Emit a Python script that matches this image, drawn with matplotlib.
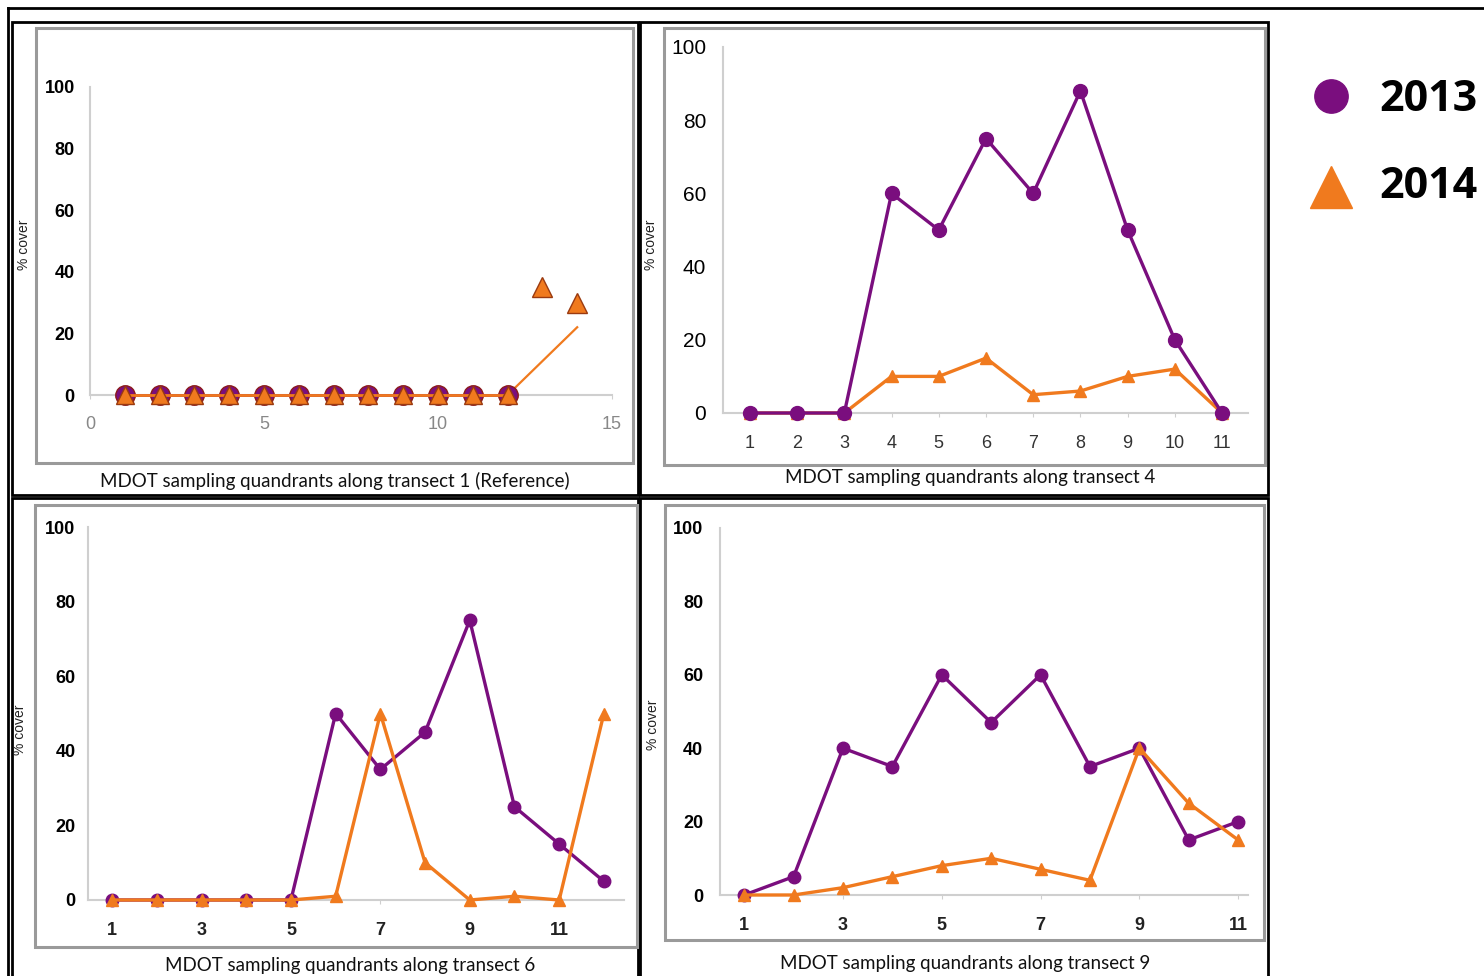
import matplotlib.pyplot as plt
from matplotlib.patches import Rectangle
from matplotlib.lines import Line2D

W, H = 1484, 976

# data
t1_x = [1, 2, 3, 4, 5, 6, 7, 8, 9, 10, 11, 12]
t1_2013 = [0, 0, 0, 0, 0, 0, 0, 0, 0, 0, 0, 0]
t1_2014 = [0, 0, 0, 0, 0, 0, 0, 0, 0, 0, 0, 0]
t1_2014_extra_x = [13, 14]
t1_2014_extra = [35, 30]
t1_2014_seg_x = [12, 14]
t1_2014_seg = [0, 22]

t4_x = [1, 2, 3, 4, 5, 6, 7, 8, 9, 10, 11]
t4_2013 = [0, 0, 0, 60, 50, 75, 60, 88, 50, 20, 0]
t4_2014 = [0, 0, 0, 10, 10, 15, 5, 6, 10, 12, 0]

t6_x = [1, 2, 3, 4, 5, 6, 7, 8, 9, 10, 11, 12]
t6_2013 = [0, 0, 0, 0, 0, 50, 35, 45, 75, 25, 15, 5]
t6_2014 = [0, 0, 0, 0, 0, 1, 50, 10, 0, 1, 0, 50]

t9_x = [1, 2, 3, 4, 5, 6, 7, 8, 9, 10, 11]
t9_2013 = [0, 5, 40, 35, 60, 47, 60, 35, 40, 15, 20]
t9_2014 = [0, 0, 2, 5, 8, 10, 7, 4, 40, 25, 15]

y_ticks = [0, 20, 40, 60, 80, 100]
PURPLE = '#7a0e7e'
ORANGE = '#f07a1e'
AXGRAY = '#cfcfcf'


def frac(x0, y0, x1, y1):
    return [x0 / W, 1 - y1 / H, (x1 - x0) / W, (y1 - y0) / H]


def box(x0, y0, x1, y1, color, lw):
    fig.add_artist(Rectangle((x0 / W, 1 - y1 / H), (x1 - x0) / W, (y1 - y0) / H,
                             transform=fig.transFigure, fill=False,
                             edgecolor=color, linewidth=lw))


def style_axes(ax, xlim, xticks, ylab_font, xlab_font, xpad, ypad, xcolor='#222222'):
    ax.set_xlim(*xlim)
    ax.set_ylim(0, 100)
    for s in ['top', 'right']:
        ax.spines[s].set_visible(False)
    for s in ['left', 'bottom']:
        ax.spines[s].set_color(AXGRAY)
        ax.spines[s].set_linewidth(1.5)
    ax.set_yticks(y_ticks)
    ax.set_xticks(xticks)
    ax.tick_params(axis='y', length=0, pad=ypad)
    ax.tick_params(axis='x', length=3, color=AXGRAY, pad=xpad, labelcolor=xcolor)
    for lab in ax.get_yticklabels():
        lab.set_fontproperties(ylab_font)
    for lab in ax.get_xticklabels():
        lab.set_fontproperties(xlab_font)
    ax.patch.set_alpha(0)


fig = plt.figure(figsize=(W / 100, H / 100), dpi=100)

# outer frame lines
fig.add_artist(Line2D([8 / W, 1], [1 - 8 / H, 1 - 8 / H], transform=fig.transFigure, color='black', lw=2))
fig.add_artist(Line2D([8 / W, 8 / W], [0, 1 - 8 / H], transform=fig.transFigure, color='black', lw=2))

# panel boxes
for (x0, y0, x1, y1) in [(12, 22, 638, 495), (640, 22, 1268, 495), (12, 498, 638, 980), (640, 498, 1268, 980)]:
    box(x0, y0, x1, y1, 'black', 2)
for (x0, y0, x1, y1) in [(36, 28, 633, 463), (664, 28, 1265, 465), (35, 505, 637, 947), (665, 505, 1264, 940)]:
    box(x0, y0, x1, y1, '#9a9a9a', 2.2)

bold = {'family': 'Liberation Sans', 'weight': 'bold', 'size': 13}
narrow = {'family': ['Liberation Sans Narrow', 'Liberation Sans'], 'size': 15}
xlab_kw = dict(family='Lato', fontsize=13.5, color='#111111', ha='center', va='center')
ylab_kw = dict(family='Liberation Sans', fontsize=10, color='#222222', rotation=90, ha='center', va='center')

# transect 1
ax1 = fig.add_axes(frac(90, 87, 612, 395))
ax1.plot(t1_x, t1_2013, color=PURPLE, lw=2, marker='o', ms=14, mfc=PURPLE, mec='#8b1a1a', clip_on=False, zorder=3)
ax1.plot(t1_x, t1_2014, color=ORANGE, lw=2, marker='^', ms=13, mfc=ORANGE, mec='#9a3a10', clip_on=False, zorder=4)
ax1.plot(t1_2014_seg_x, t1_2014_seg, color=ORANGE, lw=1.6, zorder=2)
ax1.plot(t1_2014_extra_x, t1_2014_extra, ls='none', marker='^', ms=15, mfc=ORANGE, mec='#9a3a10', zorder=4)
style_axes(ax1, (0, 15), [0, 5, 10, 15], bold,
           {'family': 'Liberation Sans', 'size': 13}, 12, 11, xcolor='#888888')
fig.text(335 / W, 1 - 481 / H, 'MDOT sampling quandrants along transect 1 (Reference)', **xlab_kw)
fig.text(24 / W, 1 - 245 / H, '% cover', **ylab_kw)

# transect 4
ax2 = fig.add_axes(frac(723, 47, 1248, 413))
ax2.plot(t4_x, t4_2014, color=ORANGE, lw=2.4, marker='^', ms=8, clip_on=False, zorder=3)
ax2.plot(t4_x, t4_2013, color=PURPLE, lw=2.4, marker='o', ms=10, clip_on=False, zorder=4)
style_axes(ax2, (0.43, 11.55), t4_x, narrow, {'family': ['Liberation Sans Narrow', 'Liberation Sans'], 'size': 13},
           13, 12, xcolor='#333333')
fig.text(970 / W, 1 - 478 / H, 'MDOT sampling quandrants along transect 4', **xlab_kw)
fig.text(651 / W, 1 - 245 / H, '% cover', **ylab_kw)

# transect 6
ax3 = fig.add_axes(frac(88, 527, 624, 900))
ax3.plot(t6_x, t6_2013, color=PURPLE, lw=2.4, marker='o', ms=9, clip_on=False, zorder=3)
ax3.plot(t6_x, t6_2014, color=ORANGE, lw=2.4, marker='^', ms=8, clip_on=False, zorder=4)
style_axes(ax3, (0.46, 12.45), [1, 3, 5, 7, 9, 11], bold, bold, 13, 9)
fig.text(350 / W, 1 - 966 / H, 'MDOT sampling quandrants along transect 6', **xlab_kw)
fig.text(20 / W, 1 - 730 / H, '% cover', **ylab_kw)

# transect 9
ax4 = fig.add_axes(frac(720, 528, 1248, 895))
ax4.plot(t9_x, t9_2013, color=PURPLE, lw=2.4, marker='o', ms=9, clip_on=False, zorder=3)
ax4.plot(t9_x, t9_2014, color=ORANGE, lw=2.4, marker='^', ms=8, clip_on=False, zorder=4)
style_axes(ax4, (0.51, 11.2), [1, 3, 5, 7, 9, 11], bold, bold, 13, 12)
fig.text(965 / W, 1 - 963 / H, 'MDOT sampling quandrants along transect 9', **xlab_kw)
fig.text(653 / W, 1 - 725 / H, '% cover', **ylab_kw)

# legend on the right
leg = fig.add_axes(frac(1290, 50, 1484, 240))
leg.set_xlim(0, 1)
leg.set_ylim(1, 0)
leg.axis('off')
leg.plot([0.21], [0.24], ls='none', marker='o', ms=24, color=PURPLE)
leg.plot([0.21], [0.72], ls='none', marker='^', ms=30, color=ORANGE)
leg.text(0.46, 0.26, '2013', family='Open Sans', weight='bold', fontsize=31, va='center', ha='left')
leg.text(0.46, 0.72, '2014', family='Open Sans', weight='bold', fontsize=31, va='center', ha='left')

fig.savefig('out.png', dpi=100)
